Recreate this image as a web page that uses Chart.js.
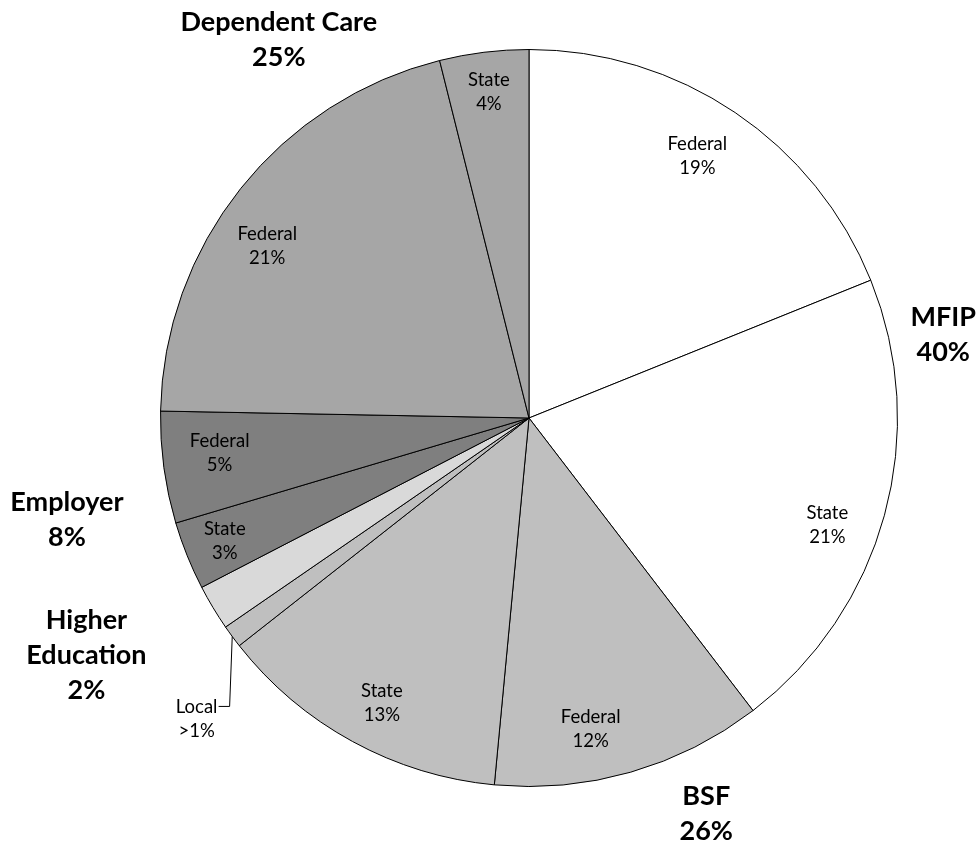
<!DOCTYPE html>
<html>
<head>
<meta charset="utf-8">
<script src="https://cdn.jsdelivr.net/npm/chart.js@4.4.1/dist/chart.umd.min.js"></script>
<style>
  html, body { margin: 0; padding: 0; background: #fff; }
  #wrap { width: 979px; height: 846px; }
</style>
</head>
<body>
<div id="wrap"><canvas id="fundingChart" width="979" height="846"></canvas></div>
<script>
// Slices, clockwise from 12 o'clock
const sliceNames = ["Federal", "State", "Federal", "State", "Local", "Higher Education", "State", "Federal", "Federal", "State"];
const sliceShares = [18.9, 20.7, 11.9, 12.9, 1.0, 2.0, 3.0, 4.9, 20.8, 3.9];
const sliceLabels = ["19%", "21%", "12%", "13%", ">1%", "2%", "3%", "5%", "21%", "4%"];
const sliceGroup = [0, 0, 1, 1, 1, 2, 3, 3, 4, 4];

// Funding programs
const groupNames = ["MFIP", "BSF", "Higher Education", "Employer", "Dependent Care"];
const groupLabels = ["40%", "26%", "2%", "8%", "25%"];
const groupColors = ["#ffffff", "#bfbfbf", "#d9d9d9", "#7f7f7f", "#a6a6a6"];

// inner label placement: angle nudge (deg) from slice middle, and radius fraction
const innerNudge = [-1.3, 4.4, 4.8, -1.3, 0, 0, 0, 1.2, -5.2, 0];
const innerRadius = [0.845, 0.86, 0.86, 0.87, 0, 0, 0.89, 0.845, 0.85, 0.89];
const noInnerLabel = [4, 5];

// where the bold program labels sit, as offsets from the centre in radius units
const groupLabelPos = [
  { dx: 1.124, dy: -0.226, lines: ["MFIP"] },
  { dx: 0.481, dy: 1.073, lines: ["BSF"] },
  { dx: -1.201, dy: 0.644, lines: ["Higher", "Education"] },
  { dx: -1.254, dy: 0.277, lines: ["Employer"] },
  { dx: -0.679, dy: -1.027, lines: ["Dependent Care"] }
];

// the tiny "Local" slice is labelled outside with a leader line
const calloutSlice = 4;
const calloutPos = { dx: -0.902, dy: 0.818 };

const FONT = "Lato, 'Open Sans', sans-serif";

const labelPlugin = {
  id: "sliceLabels",
  afterDatasetsDraw(chart) {
    const ctx = chart.ctx;
    const arcs = chart.getDatasetMeta(0).data;
    const { x: cx, y: cy, outerRadius: r } = arcs[0].getProps(["x", "y", "outerRadius"], true);

    ctx.save();
    ctx.fillStyle = "#000";
    ctx.textAlign = "center";
    ctx.textBaseline = "middle";

    // inner labels: name + share
    ctx.font = "18.5px " + FONT;
    arcs.forEach((arc, i) => {
      if (noInnerLabel.includes(i)) return;
      const { startAngle, endAngle } = arc.getProps(["startAngle", "endAngle"], true);
      const mid = (startAngle + endAngle) / 2 + innerNudge[i] * Math.PI / 180;
      const x = cx + Math.cos(mid) * r * innerRadius[i];
      const y = cy + Math.sin(mid) * r * innerRadius[i];
      ctx.fillText(sliceNames[i], x, y - 12);
      ctx.fillText(sliceLabels[i], x, y + 12);
    });

    // callout for Local
    const a = arcs[calloutSlice].getProps(["startAngle", "endAngle"], true);
    const m = (a.startAngle + a.endAngle) / 2;
    const lx = cx + calloutPos.dx * r;
    const ly = cy + calloutPos.dy * r;
    ctx.strokeStyle = "#000";
    ctx.lineWidth = 1;
    ctx.beginPath();
    ctx.moveTo(cx + Math.cos(m) * r, cy + Math.sin(m) * r);
    ctx.lineTo(lx + 33, ly - 13);
    ctx.lineTo(lx + 22, ly - 13);
    ctx.stroke();
    ctx.fillText(sliceNames[calloutSlice], lx, ly - 12);
    ctx.fillText(sliceLabels[calloutSlice], lx, ly + 12);

    // bold program labels
    ctx.font = "bold 27px " + FONT;
    groupLabelPos.forEach((p, g) => {
      const lines = p.lines.concat(groupLabels[g]);
      const lh = 35;
      const x = cx + p.dx * r;
      const y0 = cy + p.dy * r - (lines.length - 1) * lh / 2;
      lines.forEach((t, k) => ctx.fillText(t, x, y0 + k * lh));
    });
    ctx.restore();
  }
};

new Chart(document.getElementById("fundingChart"), {
  type: "pie",
  data: {
    labels: sliceNames.map((n, i) => groupNames[sliceGroup[i]] + " " + n),
    datasets: [{
      data: sliceShares,
      backgroundColor: sliceGroup.map((g) => groupColors[g]),
      borderColor: "#000000",
      borderWidth: 1
    }]
  },
  options: {
    responsive: false,
    animation: false,
    layout: { padding: { left: 160, right: 81, top: 49, bottom: 59 } },
    plugins: {
      legend: { display: false },
      tooltip: { enabled: false }
    }
  },
  plugins: [labelPlugin]
});
</script>
</body>
</html>
